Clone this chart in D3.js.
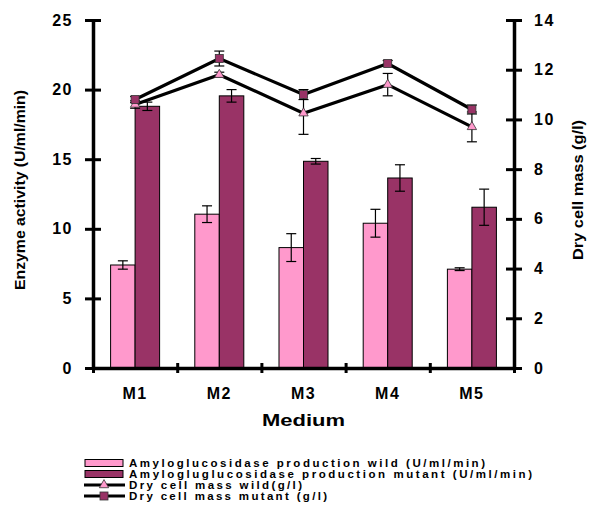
<!DOCTYPE html>
<html><head><meta charset="utf-8">
<script src="https://cdn.jsdelivr.net/npm/d3@7"></script>
<style>
html,body{margin:0;padding:0;background:#fff;}
text{font-family:"Liberation Sans",Arial,sans-serif;font-weight:bold;fill:#000;}
</style></head>
<body>
<svg id="chart" width="589" height="516"></svg>
<script>
const categories = ["M1","M2","M3","M4","M5"];
const wildProd = [7.4, 11.05, 8.65, 10.4, 7.1];
const wildProdErr = [0.3, 0.6, 1.0, 1.0, 0.1];
const mutantProd = [18.8, 19.55, 14.85, 13.65, 11.55];
const mutantProdErr = [0.3, 0.45, 0.2, 0.95, 1.3];
const dcmWild = [10.6, 11.8, 10.25, 11.4, 9.7];
const dcmWildErr = [0.15, 0.1, 0.85, 0.45, 0.6];
const dcmMutant = [10.8, 12.45, 11.0, 12.25, 10.4];
const dcmMutantErr = [0.12, 0.3, 0.2, 0.12, 0.18];
const leftTicks = [0,5,10,15,20,25];
const rightTicks = [0,2,4,6,8,10,12,14];
const legendLabels = [
  "Amyloglucosidase production wild (U/ml/min)",
  "Amylogluglucosidase production mutant (U/ml/min)",
  "Dry cell mass wild(g/l)",
  "Dry cell mass mutant (g/l)"
];
const colWild = "#ff99cc", colMut = "#993366";

const svg = d3.select("#chart");
const L = 93, R = 514, T = 20, B = 368;

const x = d3.scaleBand().domain(categories).range([L, R]).paddingInner(0.418).paddingOuter(0.209);
const xs = d3.scaleBand().domain(["wild","mutant"]).range([0, x.bandwidth()]);
const yL = d3.scaleLinear().domain([0,25]).range([B, T]);
const yR = d3.scaleLinear().domain([0,14]).range([B, T]);
const xb = d3.scaleLinear().domain([0,5]).range([L, R]);

// bars
const bars = [
  {key:"wild", vals:wildProd, errs:wildProdErr, col:colWild},
  {key:"mutant", vals:mutantProd, errs:mutantProdErr, col:colMut}
];
bars.forEach(s => {
  const g = svg.append("g");
  g.selectAll("rect").data(categories).join("rect")
    .attr("x", (c) => x(c) + xs(s.key))
    .attr("y", (c,i) => yL(s.vals[i]))
    .attr("width", xs.bandwidth())
    .attr("height", (c,i) => B - yL(s.vals[i]))
    .attr("fill", s.col).attr("stroke", "#000").attr("stroke-width", 1);
  categories.forEach((c,i) => {
    const cx = x(c) + xs(s.key) + xs.bandwidth()/2;
    const y1 = yL(s.vals[i] + s.errs[i]), y2 = yL(s.vals[i] - s.errs[i]);
    g.append("line").attr("x1",cx).attr("x2",cx).attr("y1",y1).attr("y2",y2).attr("stroke","#000").attr("stroke-width",1.2);
    [y1,y2].forEach(yy => g.append("line").attr("x1",cx-5).attr("x2",cx+5).attr("y1",yy).attr("y2",yy).attr("stroke","#000").attr("stroke-width",1.2));
  });
});

// axes
const axL = svg.append("g").attr("transform",`translate(${L},0)`)
  .call(d3.axisLeft(yL).tickValues(leftTicks).tickSize(8).tickPadding(12).tickSizeOuter(0));
axL.select(".domain").attr("stroke-width",3.5);
axL.selectAll(".tick line").attr("x1",8).attr("x2",-8).attr("stroke-width",3);
axL.selectAll(".tick text").style("font-size","16px").attr("letter-spacing","1.5px");

const axR = svg.append("g").attr("transform",`translate(${R},0)`)
  .call(d3.axisRight(yR).tickValues(rightTicks).tickSize(8).tickPadding(12).tickSizeOuter(0));
axR.select(".domain").attr("stroke-width",3.5);
axR.selectAll(".tick line").attr("x1",-8).attr("x2",8).attr("stroke-width",3);
axR.selectAll(".tick text").style("font-size","16px").attr("letter-spacing","1.5px");

const axB = svg.append("g").attr("transform",`translate(0,${B})`)
  .call(d3.axisBottom(xb).tickValues([0,1,2,3,4,5]).tickSize(5).tickFormat("").tickSizeOuter(0));
axB.select(".domain").attr("stroke-width",3.5);
axB.selectAll(".tick line").attr("y1",-5).attr("y2",5).attr("stroke-width",3);

// category labels
svg.append("g").selectAll("text").data(categories).join("text")
  .attr("x", c => x(c) + x.bandwidth()/2).attr("y", 399)
  .attr("text-anchor","middle").style("font-size","16px").attr("letter-spacing","1.5px")
  .text(c => c);

svg.append("text").attr("x", (L+R)/2).attr("y", 426).attr("text-anchor","middle")
  .style("font-size","16px").attr("textLength",83).attr("lengthAdjust","spacingAndGlyphs").text("Medium");

svg.append("text").attr("transform","translate(25,190) rotate(-90)").attr("text-anchor","middle")
  .style("font-size","15px").attr("textLength",200).attr("lengthAdjust","spacingAndGlyphs")
  .text("Enzyme activity (U/ml/min)");
svg.append("text").attr("transform","translate(583,190) rotate(-90)").attr("text-anchor","middle")
  .style("font-size","15px").attr("textLength",140).attr("lengthAdjust","spacingAndGlyphs")
  .text("Dry cell mass (g/l)");

// lines
const lineSeries = [
  {vals:dcmWild, errs:dcmWildErr, shape:"tri"},
  {vals:dcmMutant, errs:dcmMutantErr, shape:"sq"}
];
const xc = c => x(c) + x.bandwidth()/2;
lineSeries.forEach(s => {
  const g = svg.append("g");
  categories.forEach((c,i) => {
    const cx = xc(c);
    const y1 = yR(s.vals[i] + s.errs[i]), y2 = yR(s.vals[i] - s.errs[i]);
    g.append("line").attr("x1",cx).attr("x2",cx).attr("y1",y1).attr("y2",y2).attr("stroke","#000").attr("stroke-width",1.2);
    [y1,y2].forEach(yy => g.append("line").attr("x1",cx-5).attr("x2",cx+5).attr("y1",yy).attr("y2",yy).attr("stroke","#000").attr("stroke-width",1.2));
  });
  const line = d3.line().x((v,i) => xc(categories[i])).y(v => yR(v));
  g.append("path").datum(s.vals).attr("d", line).attr("fill","none").attr("stroke","#000").attr("stroke-width",3.2).attr("stroke-linejoin","miter");
});
function marker(g, shape, cx, cy) {
  if (shape === "tri") {
    g.append("path").attr("d", d3.symbol(d3.symbolTriangle, 38)()).attr("transform",`translate(${cx},${cy})`)
      .attr("fill", colWild).attr("stroke","#333").attr("stroke-width",0.8);
  } else {
    g.append("rect").attr("x",cx-4).attr("y",cy-4).attr("width",8).attr("height",8)
      .attr("fill", colMut).attr("stroke","#333").attr("stroke-width",0.8);
  }
}
lineSeries.forEach(s => {
  const g = svg.append("g");
  categories.forEach((c,i) => marker(g, s.shape, xc(c), yR(s.vals[i])));
});

// legend
const legY = [463, 474, 485, 496];
const legLen = [356, 403, 173, 198];
const lg = svg.append("g");
legendLabels.forEach((lab,i) => {
  const yy = legY[i];
  if (i < 2) {
    lg.append("rect").attr("x",85).attr("y",yy-3.5).attr("width",38).attr("height",7)
      .attr("fill", i===0?colWild:colMut).attr("stroke","#000").attr("stroke-width",1);
  } else {
    lg.append("line").attr("x1",84).attr("x2",125).attr("y1",yy).attr("y2",yy).attr("stroke","#000").attr("stroke-width",3);
    marker(lg, i===2?"tri":"sq", 104, yy);
  }
  lg.append("text").attr("x",129).attr("y",yy+4).style("font-size","11.5px")
    .attr("textLength",legLen[i]).attr("lengthAdjust","spacing").text(lab);
});
</script>
</body></html>
